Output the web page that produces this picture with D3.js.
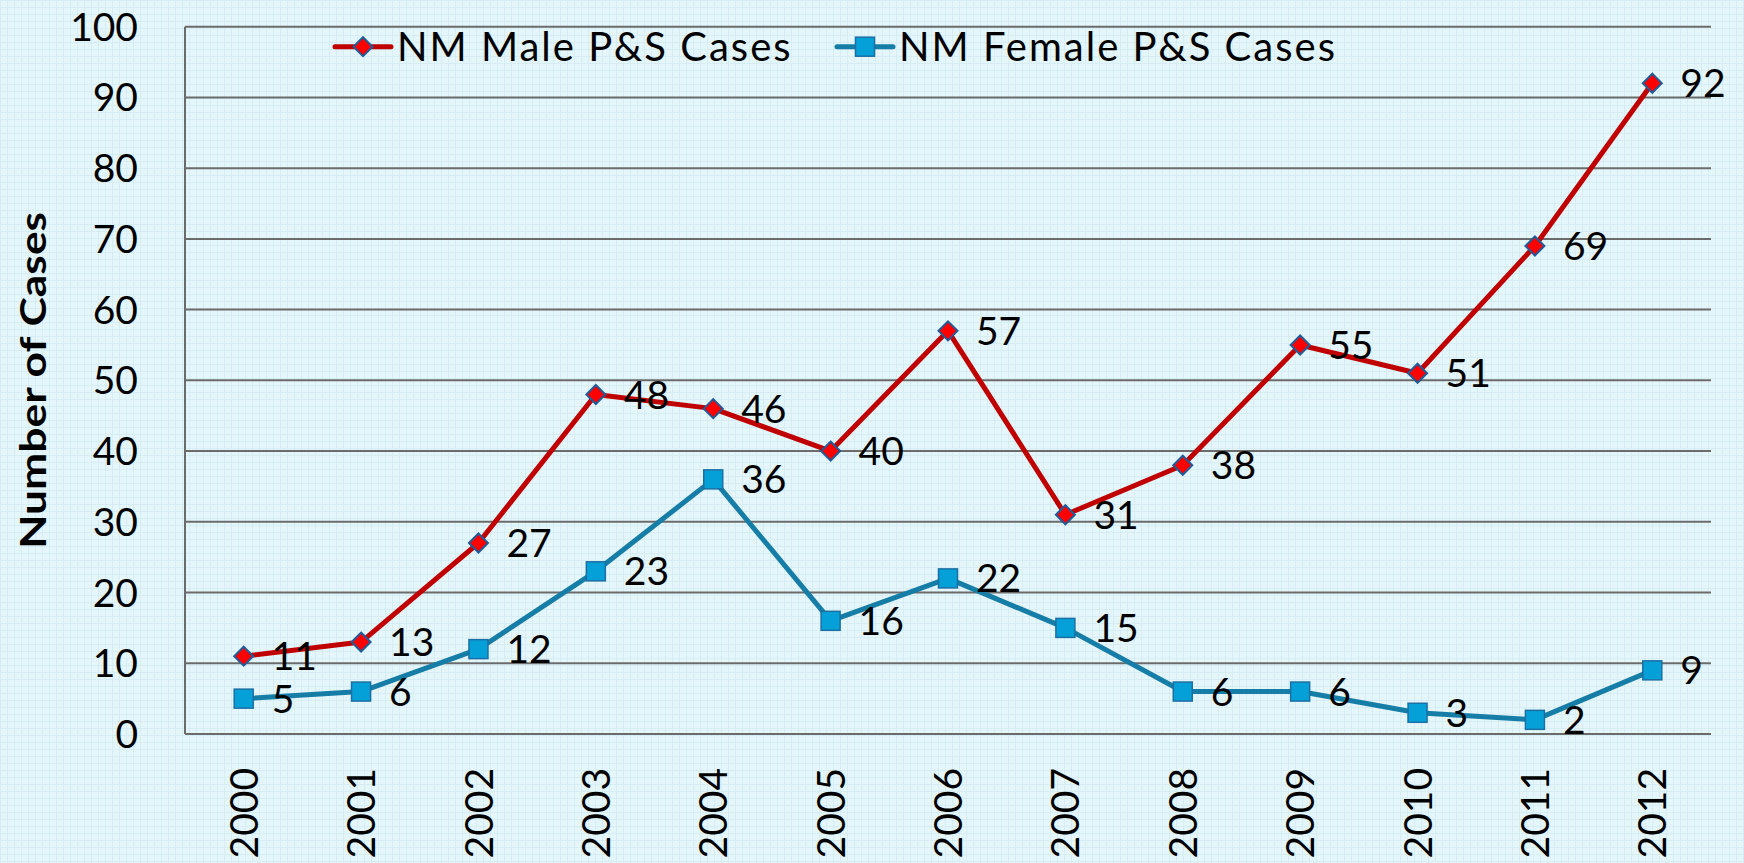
<!DOCTYPE html>
<html>
<head>
<meta charset="utf-8">
<title>NM P&amp;S Cases</title>
<script src="https://d3js.org/d3.v7.min.js"></script>
<style>
  body { margin: 0; overflow: hidden; }
  svg { display: block; }
  text { font-family: Lato, "Open Sans", sans-serif; fill: #000; }
</style>
</head>
<body>
<script>
// chart data
const years = ["2000","2001","2002","2003","2004","2005","2006","2007","2008","2009","2010","2011","2012"];
const maleCases = [11, 13, 27, 48, 46, 40, 57, 31, 38, 55, 51, 69, 92];
const femaleCases = [5, 6, 12, 23, 36, 16, 22, 15, 6, 6, 3, 2, 9];
const yTicks = [0, 10, 20, 30, 40, 50, 60, 70, 80, 90, 100];
const seriesNames = ["NM Male P&S Cases", "NM Female P&S Cases"];

const w = 1744, h = 863;
const plotLeft = 185, plotRight = 1711, plotTop = 26.7, plotBottom = 734;

const svg = d3.select("body").append("svg")
    .attr("width", w)
    .attr("height", h);

// background with faint grid texture
const defs = svg.append("defs");
const pat = defs.append("pattern")
    .attr("id", "bgpat")
    .attr("width", 7).attr("height", 7)
    .attr("patternUnits", "userSpaceOnUse");
pat.append("rect").attr("width", 7).attr("height", 7).attr("fill", "#e4f6fa");
pat.append("path").attr("d", "M0,0.5H7M0.5,0V7")
    .attr("stroke", "#d5edf3").attr("stroke-width", 1);

svg.append("rect").attr("width", w).attr("height", h).attr("fill", "url(#bgpat)");

const x = d3.scaleBand().domain(years).range([plotLeft, plotRight]);
const y = d3.scaleLinear().domain([0, 100]).range([plotBottom, plotTop]);
const cx = d => x(d) + x.bandwidth() / 2;

// gridlines
svg.append("g")
  .selectAll("line")
  .data(yTicks)
  .enter()
  .append("line")
  .attr("x1", plotLeft).attr("x2", plotRight)
  .attr("y1", d => y(d)).attr("y2", d => y(d))
  .attr("stroke", "#6b6b6b").attr("stroke-width", 2);

// left axis line
svg.append("line")
  .attr("x1", plotLeft).attr("x2", plotLeft)
  .attr("y1", y(100)).attr("y2", y(0))
  .attr("stroke", "#6b6b6b").attr("stroke-width", 2);

// y tick labels
svg.append("g")
  .selectAll("text")
  .data(yTicks)
  .enter()
  .append("text")
  .attr("x", 138)
  .attr("y", d => y(d))
  .attr("dy", "0.36em")
  .attr("text-anchor", "end")
  .style("font-size", "39px")
  .text(d => d);

// x tick labels (rotated)
svg.append("g")
  .selectAll("text")
  .data(years)
  .enter()
  .append("text")
  .attr("transform", d => "translate(" + cx(d) + ",768) rotate(-90)")
  .attr("dy", "0.36em")
  .attr("text-anchor", "end")
  .style("font-size", "39px")
  .text(d => d);

// y axis title
svg.append("text")
  .attr("transform", "translate(46," + ((plotTop + plotBottom) / 2) + ") rotate(-90)")
  .attr("text-anchor", "middle")
  .attr("textLength", 337)
  .attr("lengthAdjust", "spacingAndGlyphs")
  .style("font-size", "37px")
  .style("font-weight", "bold")
  .text("Number of Cases");

const line = d3.line().x((d, i) => cx(years[i])).y(d => y(d));

// female series
svg.append("path")
  .datum(femaleCases)
  .attr("d", line)
  .attr("fill", "none")
  .attr("stroke", "#167da6")
  .attr("stroke-width", 5)
  .attr("stroke-linejoin", "round");

// male series
svg.append("path")
  .datum(maleCases)
  .attr("d", line)
  .attr("fill", "none")
  .attr("stroke", "#c00000")
  .attr("stroke-width", 5)
  .attr("stroke-linejoin", "round");

// markers
const diamond = "M0,-9.5L9.5,0L0,9.5L-9.5,0Z";

svg.append("g")
  .selectAll("rect")
  .data(femaleCases)
  .enter()
  .append("rect")
  .attr("x", (d, i) => cx(years[i]) - 9.5)
  .attr("y", d => y(d) - 9.5)
  .attr("width", 19).attr("height", 19)
  .attr("fill", "#06a0d8")
  .attr("stroke", "#1b6fa3")
  .attr("stroke-width", 1.5);

svg.append("g")
  .selectAll("path")
  .data(maleCases)
  .enter()
  .append("path")
  .attr("transform", (d, i) => "translate(" + cx(years[i]) + "," + y(d) + ")")
  .attr("d", diamond)
  .attr("fill", "#ff0000")
  .attr("stroke", "#1f5c99")
  .attr("stroke-width", 2);

// data labels
function labels(data) {
  svg.append("g")
    .selectAll("text")
    .data(data)
    .enter()
    .append("text")
    .attr("x", (d, i) => cx(years[i]) + 28)
    .attr("y", d => y(d))
    .attr("dy", "0.36em")
    .style("font-size", "39px")
    .text(d => d);
}
labels(maleCases);
labels(femaleCases);

// legend
const legend = [
  {name: seriesNames[0], x0: 335, color: "#c00000", fill: "#ff0000", stroke: "#1f5c99", shape: "diamond"},
  {name: seriesNames[1], x0: 837, color: "#167da6", fill: "#06a0d8", stroke: "#1b6fa3", shape: "square"}
];
const lg = svg.append("g").selectAll("g").data(legend).enter().append("g")
  .attr("transform", d => "translate(" + d.x0 + ",46.7)");
lg.append("line")
  .attr("x1", 0).attr("x2", 56)
  .attr("stroke", d => d.color).attr("stroke-width", 5).attr("stroke-linecap", "round");
lg.filter(d => d.shape == "diamond").append("path")
  .attr("transform", "translate(28,0)")
  .attr("d", diamond)
  .attr("fill", d => d.fill).attr("stroke", d => d.stroke).attr("stroke-width", 2);
lg.filter(d => d.shape == "square").append("rect")
  .attr("x", 18.5).attr("y", -9.5).attr("width", 19).attr("height", 19)
  .attr("fill", d => d.fill).attr("stroke", d => d.stroke).attr("stroke-width", 1.5);
lg.append("text")
  .attr("x", 62)
  .attr("dy", "0.36em")
  .style("font-size", "40px")
  .style("letter-spacing", "2px")
  .text(d => d.name);
</script>
</body>
</html>
